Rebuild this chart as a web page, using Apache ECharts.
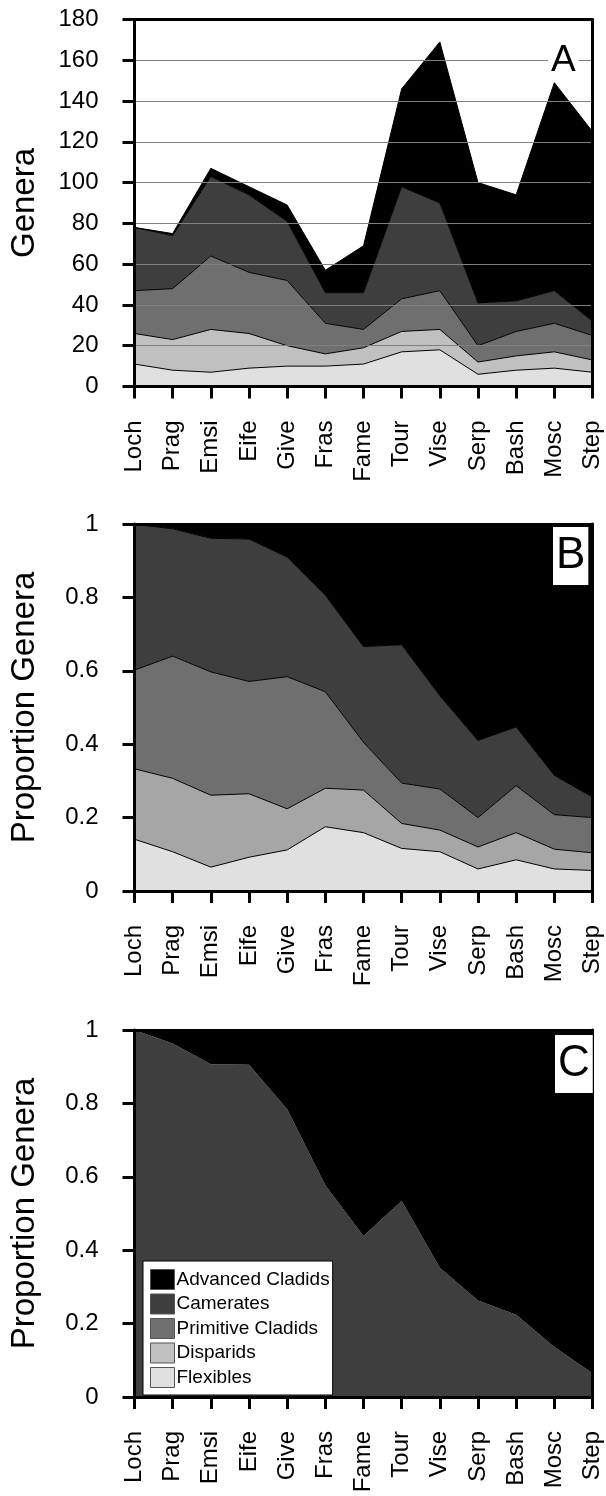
<!DOCTYPE html>
<html>
<head>
<meta charset="utf-8">
<script src="https://cdn.jsdelivr.net/npm/echarts@6/dist/echarts.min.js"></script>
<style>
html,body{margin:0;padding:0;background:#fff;}
#c{width:606px;height:1496px;}
</style>
</head>
<body>
<div id="c"></div>
<script>
const categories = ['Loch','Prag','Emsi','Eife','Give','Fras','Fame','Tour','Vise','Serp','Bash','Mosc','Step'];
const seriesNames = ['Flexibles','Disparids','Primitive Cladids','Camerates','Advanced Cladids'];
const legendOrder = ['Advanced Cladids','Camerates','Primitive Cladids','Disparids','Flexibles'];

// Panel A: number of genera
const flexiblesA = [11,8,7,9,10,10,11,17,18,6,8,9,7];
const disparidsA = [15,15,21,17,10,6,8,10,10,6,7,8,6];
const primitiveA = [21,25,36,30,32,15,9,16,19,8,12,14,12];
const cameratesA = [31,26,39,38,29,15,18,55,43,21,15,16,7];
const advancedA  = [0,1,4,4,8,11,23,48,79,59,52,102,93];

// Panel B: proportion of genera
const flexiblesB = [0.141,0.107,0.065,0.092,0.112,0.175,0.159,0.116,0.107,0.060,0.085,0.060,0.056];
const disparidsB = [0.192,0.200,0.196,0.173,0.112,0.105,0.116,0.068,0.059,0.060,0.074,0.054,0.048];
const primitiveB = [0.269,0.333,0.336,0.306,0.360,0.263,0.130,0.110,0.112,0.080,0.128,0.094,0.096];
const cameratesB = [0.397,0.347,0.364,0.388,0.326,0.263,0.261,0.377,0.254,0.210,0.160,0.107,0.056];
const advancedB  = [0.000,0.013,0.037,0.041,0.090,0.193,0.333,0.329,0.467,0.590,0.553,0.685,0.744];

// Panel C: proportion of camerates vs advanced cladids
const cameratesC = [1.000,0.963,0.907,0.905,0.784,0.577,0.439,0.534,0.352,0.263,0.224,0.136,0.065];
const advancedC  = [0.000,0.037,0.093,0.095,0.216,0.423,0.561,0.466,0.648,0.737,0.776,0.864,0.935];

const yTicksA = [0,20,40,60,80,100,120,140,160,180];
const yTicksP = [0,0.2,0.4,0.6,0.8,1];

const FONT = 'Liberation Sans, Arial, Helvetica, sans-serif';
const colors = {
  'Flexibles':'#e0e0e0',
  'Disparids':'#c0c0c0',
  'Primitive Cladids':'#6f6f6f',
  'Camerates':'#3e3e3e',
  'Advanced Cladids':'#000000'
};
const colorsB = Object.assign({}, colors, {'Disparids':'#a6a6a6'});

const chart = echarts.init(document.getElementById('c'), null, {renderer:'canvas'});

const gridTops = [19.5, 524, 1030];
const grids = gridTops.map(t => ({left:134.5, right:13.5, top:t, height:367, containLabel:false}));

const xAxes = [];
const yAxes = [];
for (let i = 0; i < 3; i++) {
  xAxes.push({
    type:'category', gridIndex:i, data:categories, boundaryGap:false, position:'bottom', z:10,
    axisLine:{show:true, onZero:false, lineStyle:{color:'#000', width:3}},
    axisTick:{show:true, length:12, interval:0, lineStyle:{color:'#000', width:3}},
    axisLabel:{show:true, interval:0, rotate:90, margin:34, fontSize:24, color:'#000', fontFamily:FONT},
    splitLine:{show:false}
  });
}
for (let i = 0; i < 3; i++) {
  xAxes.push({
    type:'category', gridIndex:i, data:categories, boundaryGap:false, position:'top', z:10,
    axisLine:{show:true, onZero:false, lineStyle:{color:'#000', width:3}},
    axisTick:{show:false}, axisLabel:{show:false}, splitLine:{show:false}
  });
}
for (let i = 0; i < 3; i++) {
  const isA = i === 0;
  const ticks = isA ? yTicksA : yTicksP;
  yAxes.push({
    type:'value', gridIndex:i, position:'left', z:10,
    min:ticks[0], max:ticks[ticks.length-1], interval:ticks[1]-ticks[0],
    name: isA ? 'Genera' : 'Proportion Genera',
    nameLocation:'middle', nameGap:93,
    nameTextStyle:{fontSize:33, color:'#000', fontFamily:FONT},
    axisLine:{show:true, lineStyle:{color:'#000', width:3}},
    axisTick:{show:true, length:12, lineStyle:{color:'#000', width:3}},
    axisLabel:{show:true, margin:36, fontSize:24, color:'#000', fontFamily:FONT},
    splitLine:{show:isA, lineStyle:{color:'#808080', width:1}}
  });
}
for (let i = 0; i < 3; i++) {
  const isA = i === 0;
  const ticks = isA ? yTicksA : yTicksP;
  yAxes.push({
    type:'value', gridIndex:i, position:'right', z:10,
    min:ticks[0], max:ticks[ticks.length-1], interval:ticks[1]-ticks[0],
    axisLine:{show:true, lineStyle:{color:'#000', width:3}},
    axisTick:{show:false}, axisLabel:{show:false}, splitLine:{show:false}
  });
}

function areaSeries(name, data, idx, stack, col, lineW) {
  return {
    name:name, type:'line', data:data, xAxisIndex:idx, yAxisIndex:idx, stack:stack,
    symbol:'none', smooth:false, z:2,
    itemStyle:{color:col},
    lineStyle:{color:'#000', width:lineW},
    areaStyle:{color:col, opacity:1},
    emphasis:{disabled:true}, silent:true, animation:false
  };
}

const dataA = [flexiblesA, disparidsA, primitiveA, cameratesA, advancedA];
const dataB = [flexiblesB, disparidsB, primitiveB, cameratesB, advancedB];
const series = [];
seriesNames.forEach((n, k) => series.push(areaSeries(n, dataA[k], 0, 'A', colors[n], 1)));
seriesNames.forEach((n, k) => series.push(areaSeries(n, dataB[k], 1, 'B', colorsB[n], 1)));
series.push(areaSeries('Camerates', cameratesC, 2, 'C', colors['Camerates'], 0));
series.push(areaSeries('Advanced Cladids', advancedC, 2, 'C', colors['Advanced Cladids'], 0));

const option = {
  animation:false,
  backgroundColor:'#fff',
  grid:grids,
  xAxis:xAxes,
  yAxis:yAxes,
  series:series,
  legend:{
    show:true, orient:'vertical', left:143, top:1261,
    backgroundColor:'#fff', borderColor:'#000', borderWidth:1,
    padding:[8,3,7,7], itemWidth:24, itemHeight:20, itemGap:3.5,
    icon:'rect', selectedMode:false,
    textStyle:{fontSize:19, color:'#000', fontFamily:FONT, padding:[0,0,0,-3]},
    data: legendOrder.map(n => ({name:n, icon:'rect', itemStyle:{color:colors[n], borderColor:'#555', borderWidth:1}}))
  },
  graphic:[
    {type:'text', left:548, top:41, z:100,
      style:{text:'A', fontSize:37, fontFamily:FONT, fill:'#000', backgroundColor:'#fff', padding:[1,3], lineHeight:37}},
    {type:'text', left:553, top:527, z:100,
      style:{text:'B', fontSize:44, fontFamily:FONT, fill:'#000', backgroundColor:'#fff', padding:[2,3], lineHeight:54}},
    {type:'text', left:555, top:1035, z:100,
      style:{text:'C', fontSize:44, fontFamily:FONT, fill:'#000', backgroundColor:'#fff', padding:[2,3], lineHeight:54}}
  ]
};
chart.setOption(option);
</script>
</body>
</html>
